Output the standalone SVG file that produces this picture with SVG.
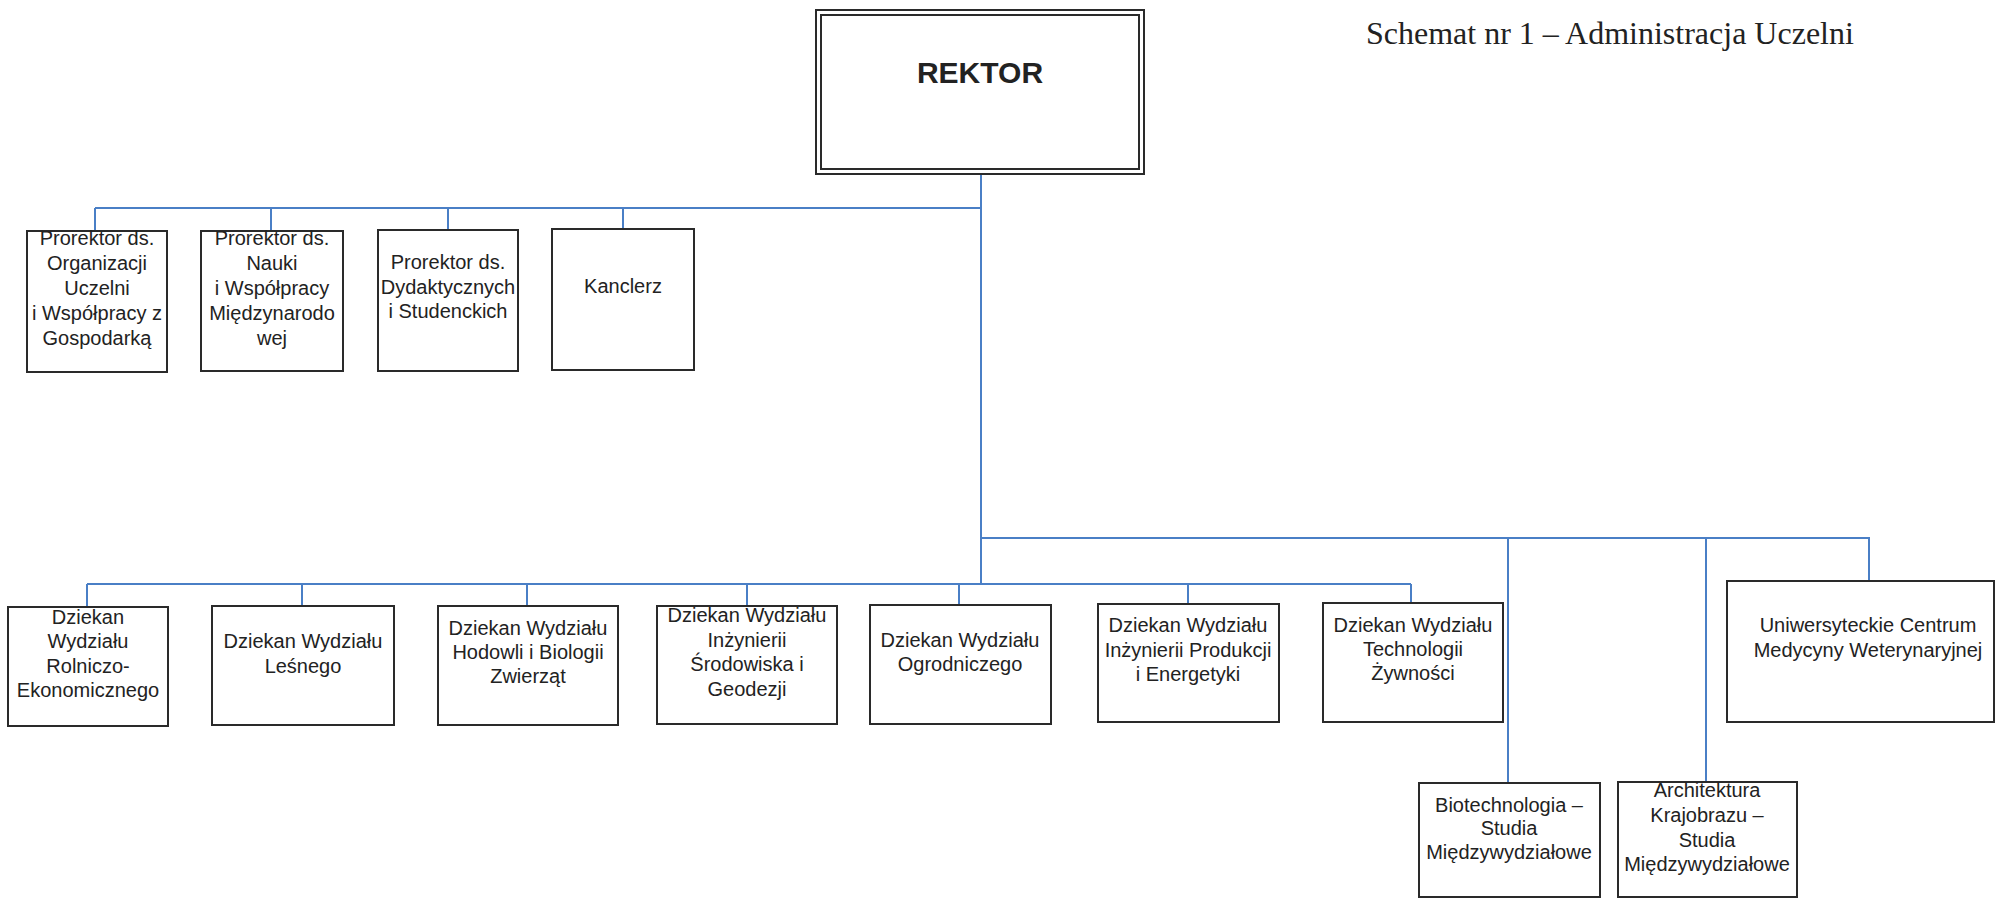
<svg xmlns="http://www.w3.org/2000/svg" width="1997" height="898" viewBox="0 0 1997 898">
<style>
.bg{fill:#ffffff}
.box{fill:#ffffff;stroke:#2a2a2a;stroke-width:2}
.conn{fill:none;stroke:#4a7fc6;stroke-width:2}
.t{font-family:"Liberation Sans",Arial,sans-serif;font-size:20px;fill:#222222;text-anchor:middle}
.title{font-family:"Liberation Serif","Times New Roman",serif;font-size:32px;fill:#222222}
.rek{font-family:"Liberation Sans",Arial,sans-serif;font-size:30px;font-weight:bold;fill:#222222;text-anchor:middle}
</style>
<rect class="bg" x="0" y="0" width="1997" height="898"/>
<text class="title" x="1366" y="44">Schemat nr 1 – Administracja Uczelni</text>

<g id="connectors">
  <path class="conn" d="M981 174 V584"/>
  <path class="conn" d="M95 208 H981"/>
  <path class="conn" d="M95 208 V231 M271 208 V231 M448 208 V230 M623 208 V229"/>
  <path class="conn" d="M87 584 H1411"/>
  <path class="conn" d="M87 584 V607 M302 584 V606 M527 584 V606 M747 584 V606 M959 584 V605 M1188 584 V604 M1411 584 V603"/>
  <path class="conn" d="M981 538 H1869 V581"/>
  <path class="conn" d="M1508 538 V782 M1706 538 V782"/>
</g>

<g id="rektor">
  <rect x="816" y="10" width="328" height="164" fill="#ffffff" stroke="#2a2a2a" stroke-width="2"/>
  <rect x="821" y="15" width="318" height="154" fill="none" stroke="#2a2a2a" stroke-width="2"/>
  <text class="rek" x="980" y="83">REKTOR</text>
</g>

<g id="prorektor-organizacji">
  <rect class="box" x="27" y="231" width="140" height="141"/>
  <text class="t" x="97" y="245">Prorektor ds.</text>
  <text class="t" x="97" y="270">Organizacji</text>
  <text class="t" x="97" y="295">Uczelni</text>
  <text class="t" x="97" y="320">i Współpracy z</text>
  <text class="t" x="97" y="345">Gospodarką</text>
</g>

<g id="prorektor-nauki">
  <rect class="box" x="201" y="231" width="142" height="140"/>
  <text class="t" x="272" y="245">Prorektor ds.</text>
  <text class="t" x="272" y="270">Nauki</text>
  <text class="t" x="272" y="295">i Współpracy</text>
  <text class="t" x="272" y="320">Międzynarodo</text>
  <text class="t" x="272" y="345">wej</text>
</g>

<g id="prorektor-dydaktyki">
  <rect class="box" x="378" y="230" width="140" height="141"/>
  <text class="t" x="448" y="269">Prorektor ds.</text>
  <text class="t" x="448" y="294">Dydaktycznych</text>
  <text class="t" x="448" y="318">i Studenckich</text>
</g>

<g id="kanclerz">
  <rect class="box" x="552" y="229" width="142" height="141"/>
  <text class="t" x="623" y="293">Kanclerz</text>
</g>

<g id="dziekan-rolniczo">
  <rect class="box" x="8" y="607" width="160" height="119"/>
  <text class="t" x="88" y="624">Dziekan</text>
  <text class="t" x="88" y="648">Wydziału</text>
  <text class="t" x="88" y="673">Rolniczo-</text>
  <text class="t" x="88" y="697">Ekonomicznego</text>
</g>

<g id="dziekan-lesny">
  <rect class="box" x="212" y="606" width="182" height="119"/>
  <text class="t" x="303" y="648">Dziekan Wydziału</text>
  <text class="t" x="303" y="673">Leśnego</text>
</g>

<g id="dziekan-hodowli">
  <rect class="box" x="438" y="606" width="180" height="119"/>
  <text class="t" x="528" y="635">Dziekan Wydziału</text>
  <text class="t" x="528" y="659">Hodowli i Biologii</text>
  <text class="t" x="528" y="683">Zwierząt</text>
</g>

<g id="dziekan-srodowiska">
  <rect class="box" x="657" y="606" width="180" height="118"/>
  <text class="t" x="747" y="622">Dziekan Wydziału</text>
  <text class="t" x="747" y="647">Inżynierii</text>
  <text class="t" x="747" y="671">Środowiska i</text>
  <text class="t" x="747" y="696">Geodezji</text>
</g>

<g id="dziekan-ogrodniczy">
  <rect class="box" x="870" y="605" width="181" height="119"/>
  <text class="t" x="960" y="647">Dziekan Wydziału</text>
  <text class="t" x="960" y="671">Ogrodniczego</text>
</g>

<g id="dziekan-produkcji">
  <rect class="box" x="1098" y="604" width="181" height="118"/>
  <text class="t" x="1188" y="632">Dziekan Wydziału</text>
  <text class="t" x="1188" y="657">Inżynierii Produkcji</text>
  <text class="t" x="1188" y="681">i Energetyki</text>
</g>

<g id="dziekan-zywnosci">
  <rect class="box" x="1323" y="603" width="180" height="119"/>
  <text class="t" x="1413" y="632">Dziekan Wydziału</text>
  <text class="t" x="1413" y="656">Technologii</text>
  <text class="t" x="1413" y="680">Żywności</text>
</g>

<g id="ucmw">
  <rect class="box" x="1727" y="581" width="267" height="141"/>
  <text class="t" x="1868" y="632">Uniwersyteckie Centrum</text>
  <text class="t" x="1868" y="657">Medycyny Weterynaryjnej</text>
</g>

<g id="biotechnologia">
  <rect class="box" x="1419" y="783" width="181" height="114"/>
  <text class="t" x="1509" y="812">Biotechnologia –</text>
  <text class="t" x="1509" y="835">Studia</text>
  <text class="t" x="1509" y="859">Międzywydziałowe</text>
</g>

<g id="architektura">
  <rect class="box" x="1618" y="782" width="179" height="115"/>
  <text class="t" x="1707" y="797">Architektura</text>
  <text class="t" x="1707" y="822">Krajobrazu –</text>
  <text class="t" x="1707" y="847">Studia</text>
  <text class="t" x="1707" y="871">Międzywydziałowe</text>
</g>
</svg>
